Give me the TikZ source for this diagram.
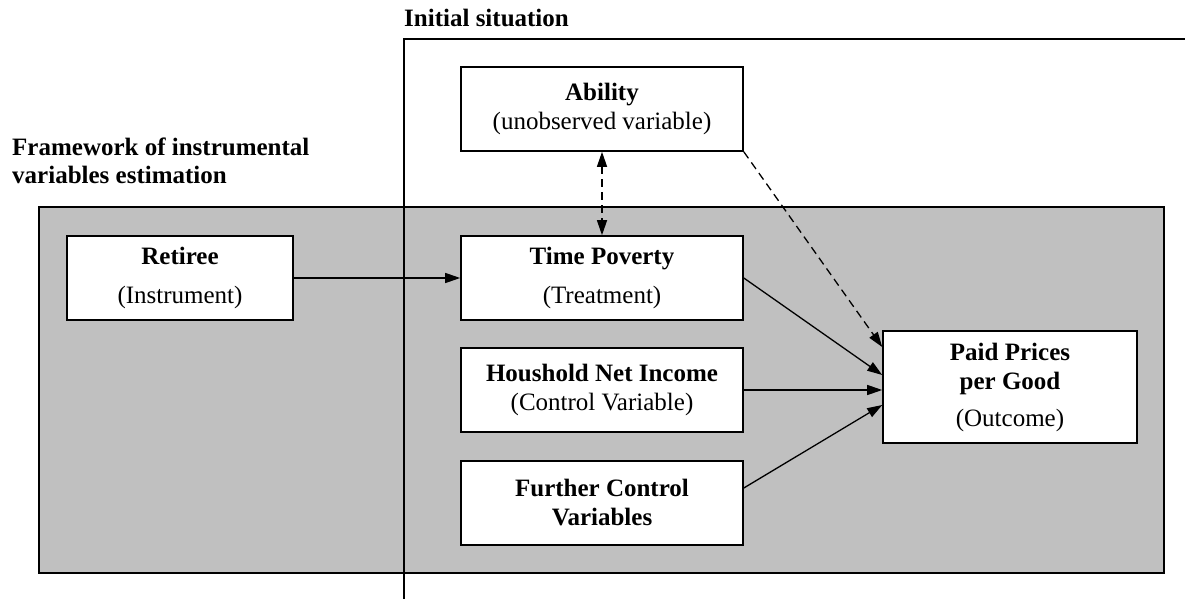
\documentclass[tikz,border=0pt]{standalone}
\usepackage{fontspec}
\setmainfont{Liberation Serif}
\usetikzlibrary{arrows.meta}
\definecolor{boxgray}{RGB}{192,192,192}
\begin{document}
\begin{tikzpicture}[x=1pt,y=-1pt,
  every node/.style={font=\fontsize{25}{29}\selectfont},
  varbox/.style={draw=black, line width=1.6pt, fill=white, align=center, inner sep=0pt},
  stdbox/.style={varbox, minimum width=282pt, minimum height=84pt},
  conn/.style={line width=1.3pt, -{Triangle[length=15pt,width=10pt]}},
  dconn/.style={conn, dash pattern=on 8pt off 5pt},
  label/.style={inner sep=0pt, font=\fontsize{25}{28}\selectfont\bfseries}
]
\useasboundingbox (0,0) rectangle (1185,599);
% background panel of the IV framework
\draw[fill=boxgray, line width=1.6pt] (39,207) rectangle (1164,573);
% initial situation frame
\draw[line width=1.6pt] (404,599) -- (404,39) -- (1185,39);
\node[label, anchor=base west] (lblinit) at (404,27) {Initial situation};
\node[label, anchor=base west, align=left] (lblfw) at (12,183) {Framework of instrumental\\variables estimation};

% nodes
\node[stdbox] (ability) at (602,109) {\textbf{Ability}\\(unobserved variable)};
\node[varbox, minimum width=226pt, minimum height=84pt] (retiree) at (180,278) {\textbf{Retiree}\\[10pt](Instrument)};
\node[stdbox] (tp) at (602,278) {\textbf{Time Poverty}\\[10pt](Treatment)};
\node[stdbox] (hni) at (602,390) {\textbf{Houshold Net Income}\\(Control Variable)};
\node[stdbox] (fcv) at (602,503) {\textbf{Further Control}\\\textbf{Variables}};
\node[varbox, minimum width=254pt, minimum height=112pt] (pp) at (1010,387) {\textbf{Paid Prices}\\\textbf{per Good}\\[8pt](Outcome)};

% connectors
\draw[conn] (retiree.east) -- (tp.west);
\draw[dconn, {Triangle[length=15pt,width=10pt]}-{Triangle[length=15pt,width=10pt]}] (ability.south) -- (tp.north);
\draw[dconn] (ability.south east) -- ([yshift=40pt]pp.west);
\draw[conn] (tp.east) -- ([yshift=12pt]pp.west);
\draw[conn] (hni.east) -- (pp.west |- hni.east);
\draw[conn] ([yshift=15pt]fcv.east) -- ([yshift=-18pt]pp.west);
\end{tikzpicture}
\end{document}
